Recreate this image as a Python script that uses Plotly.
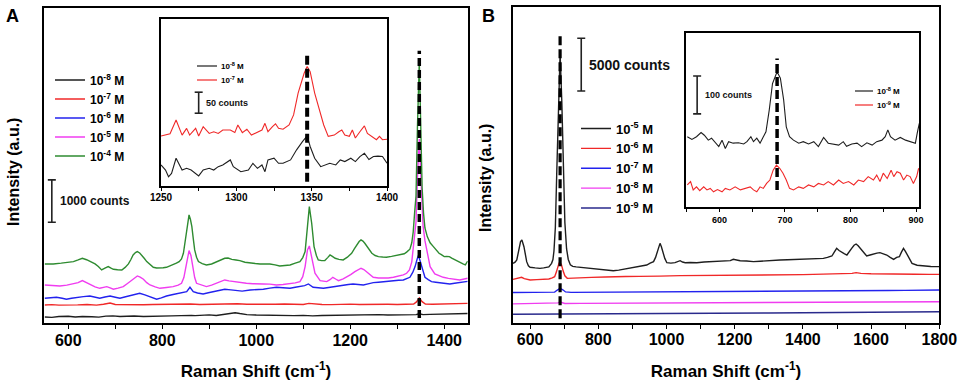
import plotly.graph_objects as go

W, H = 963, 387

# ---------------- Panel A : main spectra (Raman shift cm-1, counts) ----------------
A_LABELS = ["10<sup>-8</sup> M", "10<sup>-7</sup> M", "10<sup>-6</sup> M", "10<sup>-5</sup> M", "10<sup>-4</sup> M"]
A_COLORS = ["#1e1e1e", "#f02828", "#2222ee", "#f03cf0", "#2e8b30"]

A_1E8 = [(550, 150), (565, 140), (580, 160), (600, 165), (615, 150), (630, 160), (650, 155), (665, 145), (680, 170),
         (695, 175), (710, 160), (725, 165), (740, 172), (760, 160), (780, 170), (800, 172), (820, 175), (840, 180),
         (855, 195), (862, 188), (870, 180), (885, 190), (900, 200), (915, 185), (930, 215), (945, 245), (955, 250),
         (965, 230), (980, 205), (1000, 195), (1020, 190), (1040, 185), (1060, 195), (1080, 180), (1100, 188),
         (1120, 175), (1140, 185), (1160, 190), (1180, 195), (1200, 198), (1220, 190), (1240, 200), (1260, 205),
         (1280, 195), (1300, 200), (1320, 198), (1340, 205), (1347, 225), (1355, 205), (1370, 210), (1390, 215),
         (1410, 212), (1430, 220), (1450, 232)]

A_1E7 = [(550, 433), (565, 440), (580, 428), (600, 440), (620, 435), (640, 445), (660, 430), (675, 450), (689, 480),
         (700, 445), (720, 440), (740, 448), (760, 438), (780, 445), (800, 450), (820, 440), (840, 447), (860, 455),
         (880, 443), (900, 450), (920, 455), (940, 448), (960, 460), (980, 450), (1000, 445), (1020, 452), (1040, 448),
         (1060, 455), (1080, 450), (1100, 445), (1112, 470), (1125, 450), (1140, 442), (1160, 440), (1180, 448),
         (1200, 452), (1220, 445), (1240, 450), (1260, 460), (1280, 448), (1300, 445), (1320, 452), (1335, 455),
         (1341, 505), (1347, 600), (1353, 510), (1360, 455), (1375, 448), (1390, 455), (1410, 460), (1430, 465),
         (1450, 470)]

A_1E6 = [(550, 590), (562, 600), (575, 614), (587, 590), (596, 567), (607, 590), (618, 614), (632, 630), (646, 645),
         (657, 620), (667, 590), (678, 620), (689, 645), (700, 615), (710, 590), (720, 620), (731, 645), (742, 680),
         (752, 708), (763, 670), (774, 630), (788, 567), (798, 600), (809, 645), (823, 680), (838, 708), (846, 730),
         (852, 748), (859, 850), (866, 748), (875, 715), (887, 693), (898, 720), (909, 748), (921, 775), (933, 803),
         (946, 790), (958, 771), (970, 760), (987, 787), (1000, 795), (1015, 803), (1029, 830), (1043, 850),
         (1057, 838), (1072, 826), (1083, 850), (1093, 866), (1103, 890), (1111, 929), (1121, 850), (1132, 840),
         (1143, 826), (1154, 845), (1164, 866), (1175, 885), (1185, 905), (1196, 915), (1206, 929), (1217, 915),
         (1228, 905), (1238, 930), (1249, 960), (1260, 970), (1270, 984), (1281, 995), (1292, 1007), (1303, 1015),
         (1313, 1023), (1320, 1050), (1327, 1086), (1333, 1200), (1338, 1338), (1342, 1500), (1345, 1600),
         (1348, 1500), (1352, 1338), (1356, 1180), (1359, 1086), (1366, 1030), (1373, 984), (1382, 970),
         (1391, 960), (1401, 945), (1412, 929), (1422, 945), (1433, 960), (1444, 975), (1450, 990)]

A_1E5 = [(550, 905), (566, 895), (582, 881), (597, 900), (611, 929), (621, 960), (630, 1007), (638, 960), (646, 905),
         (657, 860), (667, 826), (675, 850), (682, 866), (689, 835), (696, 803), (706, 830), (717, 866), (726, 940),
         (735, 1023), (741, 1080), (747, 1118), (753, 1090), (760, 1039), (767, 960), (774, 905), (785, 860),
         (795, 826), (809, 845), (823, 866), (834, 900), (841, 944), (846, 1080), (850, 1338), (854, 1600),
         (857, 1716), (861, 1600), (865, 1338), (869, 1080), (873, 944), (883, 900), (894, 866), (905, 900),
         (916, 944), (925, 990), (933, 1023), (942, 1000), (951, 984), (965, 960), (979, 944), (993, 935),
         (1008, 920), (1015, 929), (1029, 925), (1043, 905), (1057, 915), (1072, 929), (1083, 955), (1093, 984),
         (1099, 1100), (1104, 1338), (1109, 1731), (1113, 1826), (1118, 1574), (1125, 1181), (1136, 1007),
         (1150, 984), (1157, 1030), (1163, 1086), (1169, 1045), (1175, 1007), (1185, 1050), (1192, 1086),
         (1201, 1150), (1210, 1220), (1217, 1270), (1223, 1299), (1229, 1270), (1235, 1220), (1242, 1150),
         (1249, 1086), (1260, 1070), (1270, 1062), (1281, 1070), (1292, 1086), (1303, 1110), (1313, 1141),
         (1320, 1180), (1326, 1259), (1331, 1450), (1334, 1731), (1337, 2000), (1340, 2400), (1343, 3400),
         (1347, 4350), (1351, 3300), (1355, 2300), (1359, 1950), (1363, 1700), (1370, 1338), (1380, 1165),
         (1390, 1120), (1398, 1086), (1409, 1060), (1419, 1039), (1433, 1023), (1445, 1050), (1450, 1062)]

A_1E4 = [(550, 1401), (568, 1401), (585, 1420), (597, 1432), (611, 1456), (621, 1495), (630, 1535), (639, 1500),
         (648, 1456), (657, 1401), (664, 1340), (671, 1259), (678, 1300), (685, 1338), (691, 1300), (696, 1275),
         (705, 1265), (714, 1259), (721, 1320), (728, 1401), (733, 1500), (738, 1613), (743, 1670), (747, 1692),
         (752, 1660), (756, 1613), (762, 1530), (767, 1456), (774, 1380), (781, 1322), (788, 1305), (795, 1299),
         (802, 1310), (809, 1322), (816, 1350), (823, 1377), (830, 1420), (836, 1456), (841, 1520), (845, 1653),
         (849, 1950), (852, 2282), (855, 2480), (857, 2558), (860, 2450), (863, 2282), (866, 2000), (869, 1731),
         (873, 1560), (877, 1456), (885, 1410), (894, 1377), (905, 1400), (916, 1456), (925, 1500), (933, 1535),
         (940, 1540), (948, 1510), (957, 1495), (965, 1480), (976, 1440), (987, 1420), (998, 1410), (1008, 1400),
         (1018, 1405), (1029, 1401), (1040, 1380), (1050, 1354), (1061, 1365), (1072, 1377), (1083, 1420),
         (1093, 1456), (1099, 1550), (1104, 1692), (1109, 2282), (1113, 2755), (1118, 2361), (1123, 1810),
         (1128, 1600), (1132, 1495), (1139, 1480), (1146, 1480), (1152, 1550), (1157, 1613), (1162, 1580),
         (1168, 1535), (1176, 1510), (1185, 1495), (1194, 1560), (1203, 1653), (1209, 1760), (1214, 1849),
         (1219, 1930), (1223, 1968), (1227, 1940), (1231, 1889), (1238, 1780), (1246, 1653), (1253, 1600),
         (1260, 1574), (1269, 1565), (1277, 1560), (1288, 1580), (1299, 1600), (1309, 1620), (1315, 1640),
         (1320, 1680), (1327, 1750), (1331, 1900), (1334, 2150), (1337, 2600), (1340, 3000), (1343, 4600),
         (1347, 6178), (1350, 4700), (1353, 3200), (1356, 2600), (1359, 2250), (1364, 2046), (1370, 1900),
         (1377, 1810), (1384, 1720), (1389, 1653), (1394, 1620), (1400, 1574), (1405, 1580), (1411, 1574),
         (1416, 1540), (1423, 1495), (1430, 1450), (1436, 1417), (1440, 1400), (1445, 1380), (1450, 1470)]

A_SERIES = [A_1E8, A_1E7, A_1E6, A_1E5, A_1E4]
A_PEAK = 1347
A_PEAK_SPAN = (125, 6433)          # counts covered by the dashed marker
A_BAR = (565, 2384, 1000)          # scale bar: x, bottom (counts), size (counts)

# ---------------- Panel A inset ----------------
AI_LABELS = ["10<sup>-8</sup> M", "10<sup>-7</sup> M"]
AI_COLORS = ["#1e1e1e", "#f02828"]
AI_1E8 = [(1250, 50), (1253, 38), (1255, 22), (1257, 30), (1260, 66), (1264, 38), (1267, 42), (1270, 38), (1275, 24),
          (1278, 38), (1282, 42), (1285, 38), (1288, 46), (1291, 50), (1296, 62), (1298, 46), (1303, 34), (1308, 38),
          (1311, 54), (1314, 42), (1317, 50), (1319, 34), (1321, 62), (1325, 66), (1328, 54), (1331, 54), (1336, 62),
          (1340, 86), (1344, 106), (1347, 119), (1349, 94), (1352, 66), (1356, 46), (1359, 50), (1362, 54), (1366, 50),
          (1369, 62), (1372, 58), (1376, 66), (1379, 58), (1382, 70), (1385, 78), (1388, 63), (1391, 70), (1394, 71),
          (1397, 70), (1400, 54)]
AI_1E7 = [(1250, 119), (1256, 124), (1260, 157), (1264, 121), (1267, 137), (1269, 121), (1273, 137), (1275, 119),
          (1278, 141), (1282, 125), (1285, 129), (1288, 125), (1291, 133), (1296, 133), (1299, 127), (1301, 145),
          (1304, 127), (1307, 135), (1310, 121), (1314, 129), (1317, 133), (1319, 149), (1321, 129), (1324, 141),
          (1326, 148), (1328, 137), (1331, 135), (1335, 145), (1338, 169), (1341, 221), (1345, 268), (1347, 284),
          (1349, 272), (1352, 221), (1356, 173), (1358, 145), (1361, 118), (1365, 121), (1368, 129), (1370, 133),
          (1372, 121), (1375, 118), (1377, 133), (1379, 114), (1382, 129), (1385, 143), (1387, 125), (1390, 118),
          (1393, 110), (1395, 118), (1397, 110), (1400, 111)]
AI_SERIES = [AI_1E8, AI_1E7]
AI_PEAK_SPAN = (10, 312)
AI_BAR = (1275, 173, 50)

# ---------------- Panel B : main spectra ----------------
B_LABELS = ["10<sup>-5</sup> M", "10<sup>-6</sup> M", "10<sup>-7</sup> M", "10<sup>-8</sup> M", "10<sup>-9</sup> M"]
B_COLORS = ["#1e1e1e", "#f02828", "#2222ee", "#f03cf0", "#2a2a8c"]

B_1E5 = [(550, 5633), (556, 5750), (561, 5950), (565, 6600), (569, 7215), (572, 7700), (576, 7847), (579, 7600),
         (582, 7215), (586, 6500), (590, 5792), (595, 5400), (600, 5256), (615, 5200), (629, 5159), (640, 5200),
         (649, 5256), (655, 5300), (663, 5633), (667, 6000), (670, 6800), (674, 9000), (678, 14000), (683, 21000),
         (688, 25566), (693, 21000), (698, 14000), (702, 9500), (707, 7000), (712, 6000), (718, 5500), (725, 5350),
         (735, 5300), (747, 5256), (765, 5200), (786, 5159), (800, 5064), (815, 5064), (830, 5000), (844, 4937),
         (860, 4990), (874, 5064), (893, 5160), (913, 5256), (928, 5350), (942, 5475), (952, 5650), (962, 5792),
         (968, 6200), (973, 6739), (977, 7300), (981, 7530), (985, 7200), (989, 6739), (995, 6100), (1001, 5696),
         (1013, 5650), (1025, 5696), (1033, 5800), (1040, 5886), (1047, 5760), (1055, 5696), (1070, 5720),
         (1089, 5696), (1110, 5760), (1138, 5792), (1160, 5830), (1175, 5850), (1187, 5886), (1196, 6012),
         (1205, 5950), (1216, 5886), (1235, 5850), (1255, 5792), (1275, 5830), (1294, 5886), (1314, 5910),
         (1333, 5950), (1355, 5980), (1382, 6012), (1405, 6040), (1431, 6012), (1450, 6060), (1460, 6108),
         (1472, 6200), (1485, 6329), (1492, 6700), (1499, 7057), (1506, 6850), (1514, 6646), (1521, 6550),
         (1529, 6424), (1536, 6800), (1543, 7057), (1550, 7350), (1556, 7468), (1562, 7300), (1568, 7057),
         (1577, 6750), (1587, 6329), (1597, 6424), (1607, 6540), (1617, 6600), (1626, 6646), (1636, 6550),
         (1646, 6424), (1656, 6200), (1666, 6012), (1675, 6200), (1683, 6266), (1689, 6700), (1695, 7057),
         (1701, 6750), (1707, 6424), (1713, 6000), (1720, 5633), (1735, 5450), (1754, 5381), (1775, 5340),
         (1800, 5317)]
B_1E6 = [(550, 4115), (560, 4200), (567, 4250), (575, 4305), (583, 4180), (592, 4080), (600, 4052), (620, 4090),
         (640, 4100), (655, 4147), (665, 4250), (672, 4368), (677, 4800), (681, 5300), (685, 5660), (688, 5694),
         (692, 5500), (697, 4900), (702, 4450), (709, 4210), (720, 4230), (746, 4274), (780, 4300), (820, 4330),
         (844, 4368), (880, 4380), (920, 4400), (942, 4431), (980, 4420), (1040, 4463), (1100, 4470), (1150, 4480),
         (1200, 4500), (1250, 4500), (1300, 4510), (1350, 4526), (1400, 4560), (1431, 4590), (1480, 4620),
         (1520, 4650), (1544, 4684), (1556, 4748), (1570, 4680), (1600, 4640), (1626, 4621), (1660, 4600),
         (1695, 4640), (1730, 4600), (1770, 4590), (1800, 4590)]
B_1E7 = [(550, 2870), (580, 2880), (610, 2860), (640, 2865), (660, 2870), (672, 2900), (680, 3100), (688, 3260),
         (696, 3120), (704, 2920), (720, 2880), (760, 2885), (800, 2890), (850, 2900), (900, 2910), (950, 2930),
         (1000, 2935), (1050, 2950), (1100, 2960), (1150, 2965), (1200, 2980), (1250, 2985), (1300, 2990),
         (1350, 3000), (1400, 3010), (1450, 3020), (1500, 3030), (1550, 3045), (1600, 3040), (1650, 3050),
         (1700, 3070), (1750, 3085), (1800, 3100)]
B_1E8 = [(550, 1790), (600, 1800), (650, 1810), (675, 1815), (682, 1880), (688, 1965), (694, 1880), (702, 1820),
         (750, 1830), (800, 1840), (900, 1860), (1000, 1880), (1100, 1890), (1200, 1900), (1300, 1915), (1400, 1930),
         (1500, 1945), (1600, 1960), (1700, 1975), (1800, 1993)]
B_1E9 = [(550, 800), (600, 805), (650, 800), (680, 815), (688, 850), (696, 815), (750, 810), (800, 815), (850, 830),
         (900, 850), (940, 890), (960, 900), (1000, 880), (1100, 895), (1200, 910), (1300, 925), (1400, 945),
         (1500, 965), (1600, 990), (1700, 1015), (1800, 1044)]
B_SERIES = [B_1E5, B_1E6, B_1E7, B_1E8, B_1E9]
B_PEAK = 688
B_PEAK_SPAN = (420, 27464)
B_BAR = (750, 21990, 5000)

# ---------------- Panel B inset ----------------
BI_LABELS = ["10<sup>-8</sup> M", "10<sup>-9</sup> M"]
BI_COLORS = ["#1e1e1e", "#f02828"]
BI_1E8 = [(551, 185), (558, 178), (565, 185), (572, 196), (577, 189), (583, 176), (588, 181), (593, 172), (599, 159),
          (604, 176), (609, 154), (614, 172), (621, 168), (629, 169), (637, 166), (642, 172), (648, 185), (652, 172),
          (657, 181), (662, 168), (667, 185), (671, 198), (676, 255), (681, 325), (688, 356), (693, 339), (698, 282),
          (702, 211), (707, 185), (713, 176), (721, 168), (728, 172), (736, 166), (744, 172), (751, 159), (759, 183),
          (766, 168), (774, 166), (782, 163), (789, 172), (794, 160), (802, 166), (810, 168), (817, 159), (825, 169),
          (833, 163), (840, 172), (848, 176), (853, 185), (857, 203), (861, 185), (868, 176), (876, 183), (884, 176),
          (891, 172), (899, 168), (902, 196), (905, 220)]
BI_1E9 = [(551, 58), (556, 67), (560, 45), (565, 53), (570, 43), (576, 53), (581, 45), (586, 49), (591, 40), (597, 46),
          (604, 40), (609, 49), (616, 45), (624, 53), (632, 45), (639, 49), (647, 53), (652, 45), (657, 40), (662, 53),
          (667, 49), (672, 62), (677, 71), (682, 97), (687, 110), (692, 102), (697, 89), (702, 71), (707, 49),
          (713, 45), (721, 53), (728, 49), (736, 58), (744, 53), (751, 62), (759, 58), (766, 67), (774, 58), (782, 71),
          (789, 62), (797, 67), (805, 58), (812, 71), (820, 67), (827, 80), (835, 71), (840, 84), (845, 67), (850, 89),
          (856, 75), (862, 97), (866, 80), (871, 93), (876, 89), (881, 71), (886, 84), (891, 80), (896, 62), (901, 80),
          (904, 102)]
BI_SERIES = [BI_1E8, BI_1E9]
BI_PEAK_SPAN = (45, 391)
BI_BAR = (566, 245, 100)

FONT = "Arial, Liberation Sans, sans-serif"


def px_x(p):
    return p / W


def px_y(p):
    return 1 - p / H


fig = go.Figure()


def add_series(series, labels, colors, xa, ya, legend, width, show=True):
    for pts, name, col in zip(series, labels, colors):
        fig.add_trace(go.Scatter(
            x=[p[0] for p in pts], y=[p[1] for p in pts], mode="lines", name=name,
            line=dict(color=col, width=width), xaxis=xa, yaxis=ya, legend=legend,
            showlegend=show, hoverinfo="skip"))


def add_marker(xv, span, xa, ya, width, dash):
    fig.add_trace(go.Scatter(
        x=[xv, xv], y=list(span), mode="lines", showlegend=False, hoverinfo="skip",
        line=dict(color="black", width=width, dash=dash), xaxis=xa, yaxis=ya))


add_series(A_SERIES, A_LABELS, A_COLORS, "x", "y", "legend", 1.4)
add_marker(A_PEAK, A_PEAK_SPAN, "x", "y", 3.5, "8px,4px")
add_series(AI_SERIES, AI_LABELS, AI_COLORS, "x2", "y2", "legend", 1.1, show=False)
add_marker(A_PEAK, AI_PEAK_SPAN, "x2", "y2", 4, "9px,4px")
add_series(B_SERIES, B_LABELS, B_COLORS, "x3", "y3", "legend2", 1.4)
add_marker(B_PEAK, B_PEAK_SPAN, "x3", "y3", 3.2, "9px,4px")
add_series(BI_SERIES, BI_LABELS, BI_COLORS, "x4", "y4", "legend", 1.1, show=False)
add_marker(B_PEAK, BI_PEAK_SPAN, "x4", "y4", 3.5, "9px,4px")

shapes = []
annotations = []


def scale_bar(bar, xr, yr, text, size, shift):
    xb, y0, h = bar
    y1 = y0 + h
    shapes.append(dict(type="line", xref=xr, yref=yr, x0=xb, x1=xb, y0=y0, y1=y1,
                       line=dict(color="#222", width=1.6)))
    for yy in (y0, y1):
        shapes.append(dict(type="line", xref=xr, yref=yr, xsizemode="pixel", xanchor=xb,
                           x0=-4, x1=4, y0=yy, y1=yy, line=dict(color="#222", width=1.6)))
    annotations.append(dict(xref=xr, yref=yr, x=xb, y=(y0 + y1) / 2, xanchor="left", yanchor="middle",
                            xshift=shift, text=text, showarrow=False,
                            font=dict(family=FONT, size=size, color="#111", weight="bold")))


def small_legend(labels, colors, x0, x1, ys, size):
    # key for an inset: short coloured line + label (positions in pixels of the page)
    for name, col, yy in zip(labels, colors, ys):
        shapes.append(dict(type="line", xref="paper", yref="paper", x0=px_x(x0), x1=px_x(x1),
                           y0=px_y(yy), y1=px_y(yy), line=dict(color=col, width=1.2)))
        annotations.append(dict(xref="paper", yref="paper", x=px_x(x1 + 2), y=px_y(yy), xanchor="left",
                                yanchor="middle", text=name, showarrow=False,
                                font=dict(family=FONT, size=size, color="black", weight="bold")))


scale_bar(A_BAR, "x", "y", "1000 counts", 12, 6)
scale_bar(AI_BAR, "x2", "y2", "50 counts", 9, 5)
scale_bar(B_BAR, "x3", "y3", "5000 counts", 14, 6)
scale_bar(BI_BAR, "x4", "y4", "100 counts", 9, 6)
small_legend(AI_LABELS, AI_COLORS, 197, 217, [66, 80], 8)
small_legend(BI_LABELS, BI_COLORS, 855, 873, [91, 105], 8)

annotations += [
    dict(xref="paper", yref="paper", x=px_x(12), y=px_y(16), xanchor="center", yanchor="middle", text="A",
         showarrow=False, font=dict(family=FONT, size=18, color="black", weight="bold")),
    dict(xref="paper", yref="paper", x=px_x(489), y=px_y(16), xanchor="center", yanchor="middle", text="B",
         showarrow=False, font=dict(family=FONT, size=18, color="black", weight="bold")),
    dict(xref="paper", yref="paper", x=px_x(13), y=px_y(172), xanchor="center", yanchor="middle",
         text="Intensity (a.u.)", textangle=-90,
         showarrow=False, font=dict(family=FONT, size=16, color="black", weight="bold")),
    dict(xref="paper", yref="paper", x=px_x(485), y=px_y(178), xanchor="center", yanchor="middle",
         text="Intensity (a.u.)", textangle=-90,
         showarrow=False, font=dict(family=FONT, size=16, color="black", weight="bold")),
]

tick_main = dict(family=FONT, size=16, color="black", weight="bold")
tick_inset = dict(family=FONT, size=10, color="black", weight="bold")
title_font = dict(family=FONT, size=17, color="black", weight="bold")


def xax(domain, rng, anchor, tick0, dtick, mdtick, tf, lw, tl, title=None, lstand=0):
    d = dict(domain=domain, range=rng, anchor=anchor, automargin=False, showline=True, linecolor="black",
             linewidth=lw, mirror=True, ticks="outside", ticklen=tl, tickwidth=1.4, tickcolor="black",
             tick0=tick0, dtick=dtick, tickfont=tf, showgrid=False, zeroline=False, ticklabelstandoff=lstand,
             minor=dict(tick0=tick0, dtick=mdtick, ticks="outside", ticklen=tl, tickwidth=1.4,
                        tickcolor="black", showgrid=False))
    if title:
        d["title"] = dict(text=title, font=title_font, standoff=18)
    return d


def yax(domain, rng, anchor, lw):
    return dict(domain=domain, range=rng, anchor=anchor, automargin=False, showline=True, linecolor="black",
                linewidth=lw, mirror=True, ticks="", showticklabels=False, showgrid=False, zeroline=False)


XT = "Raman Shift (cm<sup>-1</sup>)"

fig.update_layout(
    template="none",
    width=W, height=H, margin=dict(l=0, r=0, t=0, b=0, pad=0, autoexpand=False),
    paper_bgcolor="white", plot_bgcolor="white",
    font=dict(family=FONT, color="black"),
    xaxis=xax([px_x(44.3), px_x(467.7)], [549, 1450], "y", 600, 200, 100, tick_main, 2, 4, XT, -3),
    yaxis=yax([px_y(323.3), px_y(8.3)], [0, 7434], "x", 2),
    xaxis2=xax([px_x(161), px_x(387)], [1250, 1400], "y2", 1250, 50, 25, tick_inset, 1.5, 3, None, -2),
    yaxis2=yax([px_y(186), px_y(19)], [0, 397], "x2", 1.5),
    xaxis3=xax([px_x(512.7), px_x(939.3)], [549, 1800], "y3", 600, 200, 100, tick_main, 2, 4, XT, -3),
    yaxis3=yax([px_y(322.7), px_y(7)], [0, 29960], "x3", 2),
    xaxis4=xax([px_x(686), px_x(919.3)], [549, 905], "y4", 600, 100, 50, dict(tick_inset, size=9), 1.5, 3),
    yaxis4=yax([px_y(207), px_y(33)], [0, 458], "x4", 1.5),
    legend=dict(x=px_x(50), y=px_y(65.5), xanchor="left", yanchor="top", bgcolor="rgba(0,0,0,0)",
                font=dict(family=FONT, size=12, color="black", weight="bold"), tracegroupgap=0),
    legend2=dict(x=px_x(576), y=px_y(113.5), xanchor="left", yanchor="top", bgcolor="rgba(0,0,0,0)",
                 font=dict(family=FONT, size=13, color="black", weight="bold")),
    shapes=shapes, annotations=annotations,
)

fig.write_html(
    "out.html",
    config={"displayModeBar": False},
    post_script="document.body.style.margin='0';document.body.style.padding='0';"
                "document.documentElement.style.overflow='hidden';",
)
